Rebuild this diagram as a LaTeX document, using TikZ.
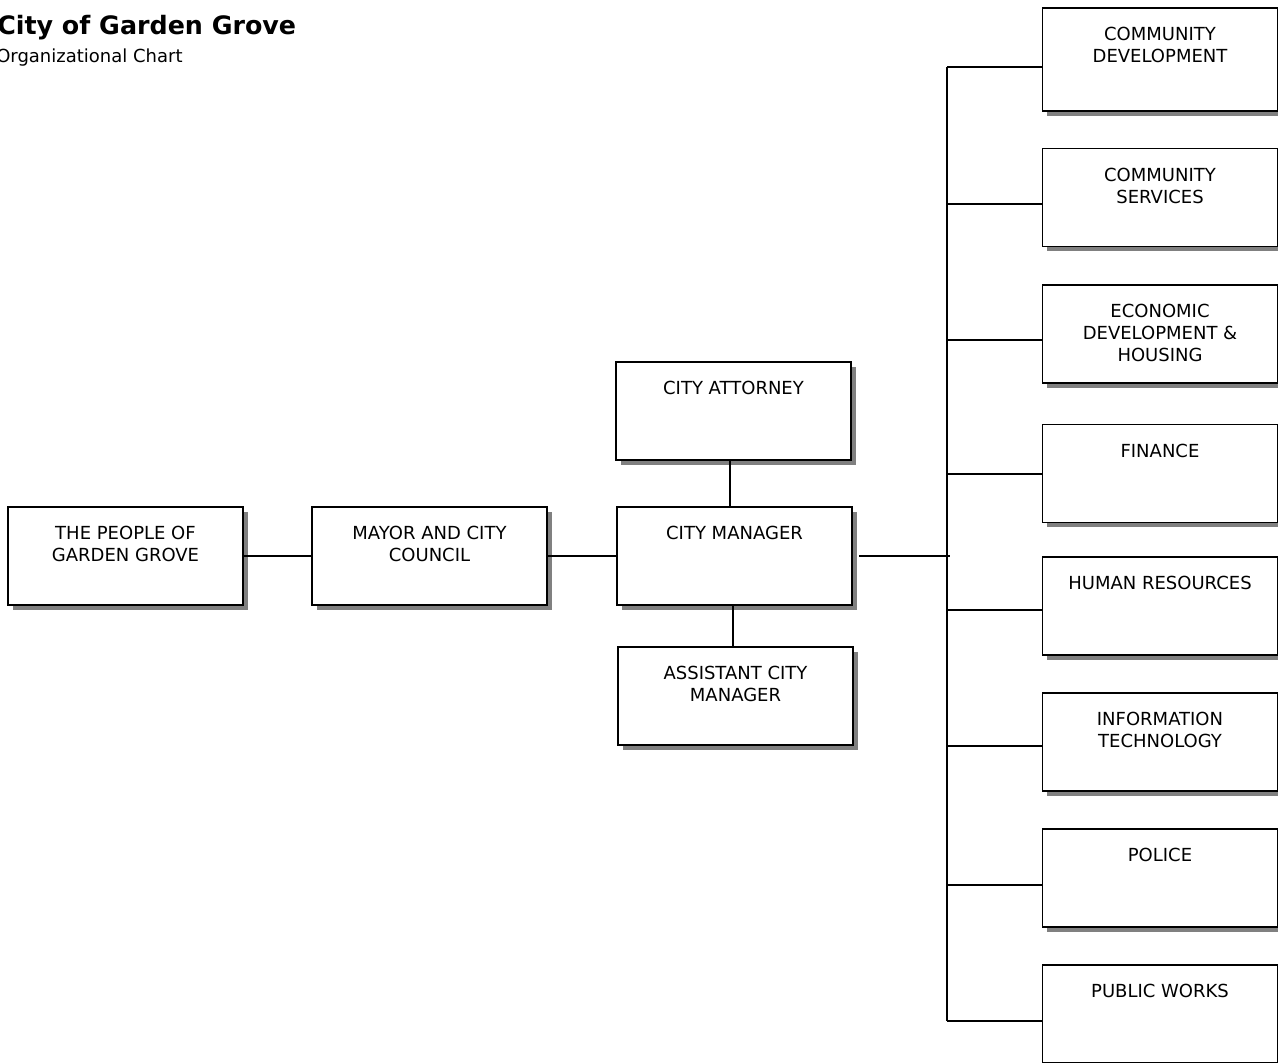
\documentclass[tikz,border=0pt]{standalone}
\usepackage{fontspec}
\setmainfont{DejaVu Sans}
\usetikzlibrary{positioning,shadows}

\begin{document}
\begin{tikzpicture}[
    x=0.75pt, y=-0.75pt,
    box/.style={draw, line width=1pt, fill=white, minimum width=176.25pt, minimum height=73.5pt,
        drop shadow={shadow xshift=3.5pt, shadow yshift=-3.5pt, fill=gray, opacity=1}},
    lbl/.style={anchor=north, yshift=-15pt, align=center, inner sep=0pt, font=\fontsize{13.5}{16.3}\selectfont},
    con/.style={line width=0.9pt}
]
\useasboundingbox (0,0) rectangle (1278,1063);

% heading
\node[anchor=base west, inner sep=0pt, font=\bfseries\fontsize{19}{23}\selectfont] (title) at (-3,35) {City of Garden Grove};
\node[anchor=base west, inner sep=0pt, font=\fontsize{13.5}{16.3}\selectfont] (subtitle) at (-4,63) {Organizational Chart};

% main chain
\node[box, label={[lbl]north:{THE PEOPLE OF\\GARDEN GROVE}}] (people) at (125.5,556) {};
\node[box, right=50.75pt of people, label={[lbl]north:{MAYOR AND CITY\\COUNCIL}}] (mayor) {};
\node[box, right=51.5pt of mayor, label={[lbl]north:{CITY MANAGER}}] (cm) {};
\node[box, label={[lbl]north:{CITY ATTORNEY}}] (attorney) at (733.5,411) {};
\node[box, label={[lbl]north:{ASSISTANT CITY\\MANAGER}}] (assistant) at (735.5,696) {};

% departments
\node[box, minimum height=77.25pt, label={[lbl]north:{COMMUNITY\\DEVELOPMENT}}] (commdev) at (1160,59.5) {};
\node[box, label={[lbl]north:{COMMUNITY\\SERVICES}}] (commserv) at (1160,197.5) {};
\node[box, label={[lbl]north:{ECONOMIC\\DEVELOPMENT \&\\HOUSING}}] (econ) at (1160,334) {};
\node[box, label={[lbl]north:{FINANCE}}] (finance) at (1160,473.5) {};
\node[box, label={[lbl]north:{HUMAN RESOURCES}}] (hr) at (1160,606) {};
\node[box, label={[lbl]north:{INFORMATION\\TECHNOLOGY}}] (it) at (1160,742) {};
\node[box, label={[lbl]north:{POLICE}}] (police) at (1160,878) {};
\node[box, label={[lbl]north:{PUBLIC WORKS}}] (pubworks) at (1160,1014) {};

\coordinate (bustop) at (947,67);
\coordinate (busbot) at (947,1021);

\draw[con] (people) -- (mayor);
\draw[con] (mayor) -- (cm);
\draw[con] (attorney.south -| 730,0) -- (cm.north -| 730,0);
\draw[con] (cm.south -| 733,0) -- (assistant.north -| 733,0);
\draw[con] ([xshift=5pt]cm.east) -- ([xshift=2pt]bustop |- cm.east);
\draw[con] (bustop) -- (busbot);

\draw[con] (bustop) -- (commdev.west |- bustop);
\draw[con] (bustop |- 0,204) -- (commserv.west |- 0,204);
\draw[con] (bustop |- 0,340) -- (econ.west |- 0,340);
\draw[con] (bustop |- 0,474) -- (finance.west |- 0,474);
\draw[con] (bustop |- 0,610) -- (hr.west |- 0,610);
\draw[con] (bustop |- 0,746) -- (it.west |- 0,746);
\draw[con] (bustop |- 0,885) -- (police.west |- 0,885);
\draw[con] (busbot) -- (pubworks.west |- busbot);
\end{tikzpicture}
\end{document}
